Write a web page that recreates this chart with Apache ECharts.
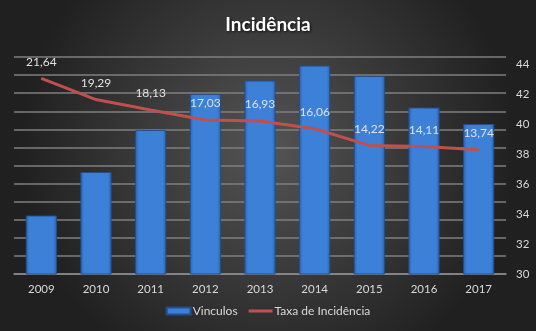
<!DOCTYPE html>
<html><head><meta charset="utf-8">
<script src="https://cdn.jsdelivr.net/npm/echarts@6/dist/echarts.min.js"></script>
<style>html,body{margin:0;padding:0;background:#333}#c{width:536px;height:331px}</style>
</head><body><div id="c"></div>
<script>
const categories = ['2009','2010','2011','2012','2013','2014','2015','2016','2017'];
const vinculos = [33.9, 36.8, 39.6, 42.0, 42.9, 43.9, 43.2, 41.1, 40.0];
const taxaIncidencia = [21.64, 19.29, 18.13, 17.03, 16.93, 16.06, 14.22, 14.11, 13.74];
const rightTicks = [30, 32, 34, 36, 38, 40, 42, 44];

const font = 'Lato, "Open Sans", sans-serif';
const chart = echarts.init(document.getElementById('c'), null, {renderer: 'canvas'});
chart.setOption({
  animation: false,
  backgroundColor: {
    type: 'radial', x: 0.5, y: 0.45, r: 0.75,
    colorStops: [{offset: 0, color: '#545454'}, {offset: 1, color: '#202020'}]
  },
  title: {
    text: 'Incidência', left: 'center', top: 10,
    textStyle: {color: '#ffffff', fontSize: 19, fontWeight: 'bold', fontFamily: font,
      textShadowColor: 'rgba(0,0,0,0.8)', textShadowBlur: 3, textShadowOffsetX: 1, textShadowOffsetY: 1}
  },
  legend: {
    bottom: 9, left: 'center', itemGap: 11, itemWidth: 24, itemHeight: 7,
    textStyle: {color: '#d9d9d9', fontSize: 12, fontFamily: font, padding: [0, 0, 0, -3]},
    data: [{name: 'Vinculos', icon: 'rect'},
           {name: 'Taxa de Incidência', icon: 'path://M0,0 M0,7 M0,2 L24,2 L24,5 L0,5 Z'}]
  },
  grid: {left: 14, right: 30, top: 57, bottom: 57},
  xAxis: {
    type: 'category', data: categories,
    axisLine: {lineStyle: {color: '#8c8c8c', width: 1.5}},
    axisTick: {show: false},
    axisLabel: {color: '#d9d9d9', fontSize: 11.5, fontFamily: font, margin: 9}
  },
  yAxis: [
    {type: 'value', min: 0, max: 24, interval: 2,
      axisLine: {show: false}, axisTick: {show: false}, axisLabel: {show: false},
      splitLine: {lineStyle: {color: '#7f7f7f', width: 1.5}}},
    {type: 'value', min: 30, max: 44.47, interval: 2, position: 'right',
      axisLine: {show: false}, axisTick: {show: false}, splitLine: {show: false},
      axisLabel: {color: '#d9d9d9', fontSize: 11.5, fontFamily: font, margin: 10,
        formatter: v => rightTicks.includes(v) ? String(v) : ''}}
  ],
  series: [
    {name: 'Vinculos', type: 'bar', yAxisIndex: 1, data: vinculos, barWidth: '57%',
      itemStyle: {
        color: {type: 'linear', x: 0, y: 0, x2: 1, y2: 0,
          colorStops: [{offset: 0, color: '#2c64b0'}, {offset: 0.12, color: '#3d80d8'},
                       {offset: 0.88, color: '#3d80d8'}, {offset: 1, color: '#2c64b0'}]},
        borderColor: '#244f8c', borderWidth: 1
      }},
    {name: 'Taxa de Incidência', type: 'line', yAxisIndex: 0, data: taxaIncidencia,
      symbol: 'circle', symbolSize: 1, showSymbol: true,
      lineStyle: {color: '#c0504d', width: 3}, itemStyle: {color: '#c0504d'},
      label: {show: true, position: 'top', distance: 10, color: '#e0e0e0', fontSize: 12, fontFamily: font,
        formatter: p => p.value.toFixed(2).replace('.', ',')}}
  ]
});
</script></body></html>
